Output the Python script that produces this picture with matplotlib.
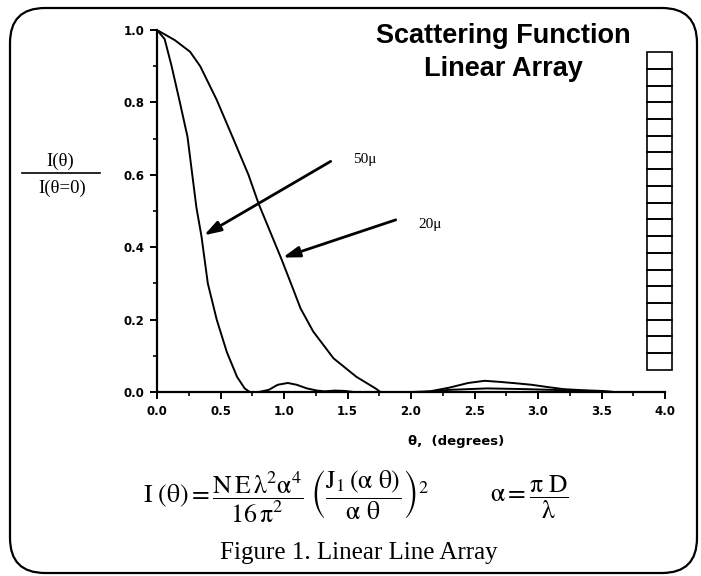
import numpy as np
import matplotlib
matplotlib.use("Agg")
import matplotlib.pyplot as plt
from matplotlib.patches import FancyBboxPatch, Rectangle
from matplotlib.lines import Line2D

plt.rcParams['mathtext.fontset'] = 'stix'

# curve: 50 micron
theta_50 = [0.0, 0.06, 0.115, 0.18, 0.24, 0.31, 0.35, 0.40, 0.47, 0.55, 0.63, 0.69, 0.73,
            0.80, 0.88, 0.95, 1.03, 1.10, 1.18, 1.26, 1.32, 1.40, 1.48, 1.55, 2.1, 2.3,
            2.6, 2.9, 3.2, 3.4, 3.6, 4.0]
I_50 = [1.0, 0.975, 0.90, 0.80, 0.705, 0.51, 0.43, 0.30, 0.20, 0.11, 0.042, 0.010, 0.0,
        0.0, 0.006, 0.020, 0.025, 0.020, 0.010, 0.004, 0.002, 0.004, 0.003, 0.0, 0.0, 0.006,
        0.010, 0.008, 0.005, 0.003, 0.0, 0.0]

# curve: 20 micron
theta_20 = [0.0, 0.14, 0.26, 0.34, 0.47, 0.60, 0.72, 0.80, 0.98, 1.07, 1.13, 1.23, 1.39,
            1.57, 1.72, 1.76, 2.0, 2.15, 2.3, 2.45, 2.58, 2.70, 2.83, 2.95, 3.07, 3.2,
            3.35, 3.5, 3.6, 4.0]
I_20 = [1.0, 0.972, 0.94, 0.90, 0.807, 0.70, 0.60, 0.52, 0.367, 0.286, 0.231, 0.167, 0.093,
        0.042, 0.010, 0.0, 0.0, 0.002, 0.012, 0.025, 0.031, 0.028, 0.024, 0.020, 0.014, 0.008,
        0.005, 0.003, 0.0, 0.0]

x_ticks = [0.0, 0.5, 1.0, 1.5, 2.0, 2.5, 3.0, 3.5, 4.0]
y_ticks = [0.0, 0.2, 0.4, 0.6, 0.8, 1.0]
n_cells = 19

fig = plt.figure(figsize=(7.01, 5.76), dpi=100)
ax = fig.add_axes([0.224, 0.3194, 0.7247, 0.6285])

ax.plot(theta_50, I_50, color='black', lw=1.4)
ax.plot(theta_20, I_20, color='black', lw=1.4)

ax.set_xlim(0, 4)
ax.set_ylim(0, 1)
ax.set_xticks(x_ticks)
ax.set_yticks(y_ticks)
ax.set_xticklabels([f'{v:.1f}' for v in x_ticks])
ax.set_yticklabels([f'{v:.1f}' for v in y_ticks])
ax.set_xticks(np.arange(0, 4.01, 0.25), minor=True)
ax.set_yticks(np.arange(0, 1.01, 0.1), minor=True)
for s in ['top', 'right']:
    ax.spines[s].set_visible(False)
for s in ['left', 'bottom']:
    ax.spines[s].set_linewidth(1.6)
ax.tick_params(which='major', direction='out', length=5, width=1.4, pad=4)
ax.tick_params(which='minor', direction='out', length=3, width=1.2)
for lab in ax.get_xticklabels() + ax.get_yticklabels():
    lab.set_fontfamily('DejaVu Sans')
    lab.set_fontweight('bold')
    lab.set_fontsize(8.5)

# arrows and labels
arrow = dict(arrowstyle='-|>,head_length=1.0,head_width=0.32', color='black', lw=2.0)
ax.annotate('', xy=(0.351, 0.429), xytext=(1.386, 0.641), arrowprops=arrow)
ax.annotate('', xy=(0.969, 0.369), xytext=(1.90, 0.478), arrowprops=arrow)
ax.text(1.545, 0.641, '50\u03bc', fontfamily='Liberation Serif', fontsize=11, va='center')
ax.text(2.055, 0.464, '20\u03bc', fontfamily='Liberation Serif', fontsize=11, va='center')

# linear array drawing
cell_h = (0.939 - 0.061) / n_cells
for i in range(n_cells):
    ax.add_patch(Rectangle((3.858, 0.061 + i * cell_h), 0.197, cell_h, fill=False,
                           lw=1.2, ec='black', clip_on=False))

# titles
fig.text(503 / 701, 1 - 36 / 576, 'Scattering Function', ha='center', va='center',
         fontfamily='Liberation Sans', fontweight='bold', fontsize=19.5)
fig.text(503 / 701, 1 - 69 / 576, 'Linear Array', ha='center', va='center',
         fontfamily='Liberation Sans', fontweight='bold', fontsize=19.5)

# y label as a fraction
fig.text(60 / 701, 1 - 161 / 576, 'I(\u03b8)', ha='center', va='center',
         fontfamily='Liberation Serif', fontsize=13.5)
fig.text(62 / 701, 1 - 188 / 576, 'I(\u03b8=0)', ha='center', va='center',
         fontfamily='Liberation Serif', fontsize=13.5)
fig.add_artist(Line2D([22 / 701, 100 / 701], [1 - 173 / 576, 1 - 173 / 576],
                      color='black', lw=1.2))

fig.text(456 / 701, 1 - 441 / 576, '\u03b8,  (degrees)', ha='center', va='center',
         fontfamily='DejaVu Sans', fontweight='bold', fontsize=9.5)

# formulas
fig.text(143 / 701, 1 - 497 / 576,
         r'$\mathrm{I\ (\theta)} = \dfrac{\mathrm{N\,E\,\lambda^2\alpha^4}}{\mathrm{16\,\pi^2}}'
         r'\ \left(\dfrac{\mathrm{J_1\,(\alpha\ \theta)}}{\mathrm{\alpha\ \theta}}\right)^2$',
         ha='left', va='center', fontsize=18.5)
fig.text(490 / 701, 1 - 497 / 576, r'$\mathrm{\alpha} = \dfrac{\mathrm{\pi\ D}}{\mathrm{\lambda}}$',
         ha='left', va='center', fontsize=18.5)

fig.text(359 / 701, 1 - 553 / 576, 'Figure 1. Linear Line Array', ha='center', va='center',
         fontfamily='Liberation Serif', fontsize=18)

# rounded frame round the whole figure
frame = FancyBboxPatch((0.10, 0.03), 6.87, 5.65, boxstyle='round,pad=0,rounding_size=0.35',
                       transform=fig.dpi_scale_trans, fill=False, lw=1.6, ec='black')
fig.add_artist(frame)

fig.savefig('out.png', dpi=100)
